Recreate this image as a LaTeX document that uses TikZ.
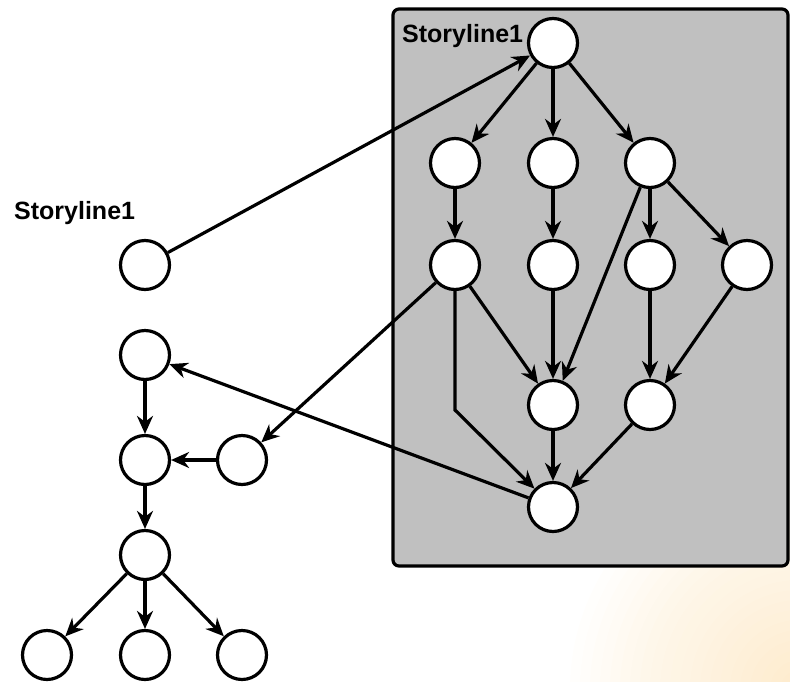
\documentclass[tikz,border=0pt]{standalone}
\usepackage{fontspec}
\setmainfont{Liberation Sans}
\usetikzlibrary{arrows.meta}
\definecolor{boxgray}{RGB}{192,192,192}
\definecolor{glowcolor}{RGB}{250,190,90}

\begin{document}
\begin{tikzpicture}[x=1pt, y=-1pt,
  state/.style={circle, draw, line width=3.2pt, fill=white, minimum size=49pt, inner sep=0pt},
  link/.style={line width=3.2pt, -{Stealth[length=18pt,width=16pt]}},
  title/.style={font=\fontsize{25}{30}\selectfont\bfseries, anchor=west, inner sep=0pt}]
  \useasboundingbox (0,0) rectangle (790,681);

  % faint glow in the corner
  \foreach \r in {10,20,...,230}
    \fill[glowcolor, opacity=0.016] (800,690) circle (\r pt);

  % storyline box
  \draw[line width=3.2pt, fill=boxgray, rounded corners=6pt] (393,9) rectangle (788,566);
  \node[title] (boxtitle) at (402,36) {Storyline1};
  \node[title] (lefttitle) at (14,213) {Storyline1};

  % nodes inside the box
  \node[state] (top) at (553,43) {};
  \node[state] (a1) at (455,163) {};
  \node[state] (a2) at (553,163) {};
  \node[state] (a3) at (650,163) {};
  \node[state] (b1) at (455,265) {};
  \node[state] (b2) at (553,265) {};
  \node[state] (b3) at (650,265) {};
  \node[state] (b4) at (747,265) {};
  \node[state] (c1) at (553,405) {};
  \node[state] (c2) at (650,405) {};
  \node[state] (bot) at (553,507) {};
  \coordinate (bend) at (455,410);

  % nodes on the left
  \node[state] (s) at (145,265) {};
  \node[state] (l1) at (145,355) {};
  \node[state] (l2) at (145,460) {};
  \node[state] (l3) at (242,460) {};
  \node[state] (l4) at (145,555) {};
  \node[state] (l5) at (47,655) {};
  \node[state] (l6) at (145,655) {};
  \node[state] (l7) at (242,655) {};

  % edges in the box
  \draw[link] (top) -- (a1);
  \draw[link] (top) -- (a2);
  \draw[link] (top) -- (a3);
  \draw[link] (a1) -- (b1);
  \draw[link] (a2) -- (b2);
  \draw[link] (a3) -- (b3);
  \draw[link] (a3) -- (b4);
  \draw[link] (a3) -- (c1);
  \draw[link] (b1) -- (c1);
  \draw[link] (b2) -- (c1);
  \draw[link] (b1) -- (bend) -- (bot);
  \draw[link] (b3) -- (c2);
  \draw[link] (b4) -- (c2);
  \draw[link] (c1) -- (bot);
  \draw[link] (c2) -- (bot);

  % edges between the two parts
  \draw[link] (s) -- (top);
  \draw[link] (b1) -- (l3);
  \draw[link] (bot) -- (l1);

  % edges on the left
  \draw[link] (l1) -- (l2);
  \draw[link] (l3) -- (l2);
  \draw[link] (l2) -- (l4);
  \draw[link] (l4) -- (l5);
  \draw[link] (l4) -- (l6);
  \draw[link] (l4) -- (l7);
\end{tikzpicture}
\end{document}
